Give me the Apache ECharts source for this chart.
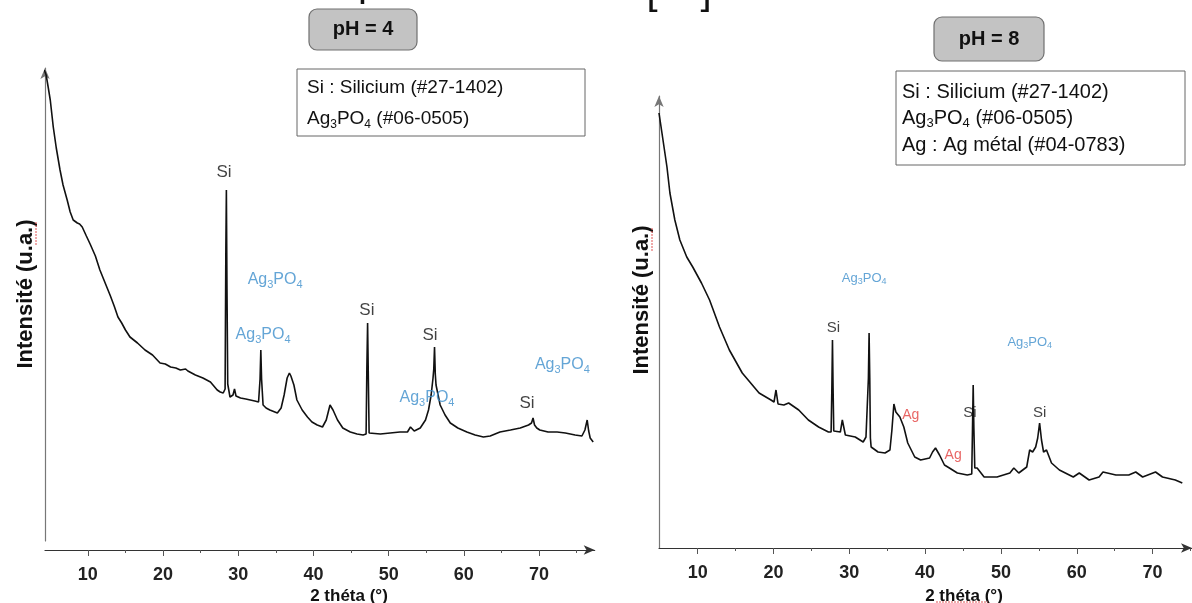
<!DOCTYPE html>
<html>
<head>
<meta charset="utf-8">
<script src="https://cdn.jsdelivr.net/npm/echarts@6/dist/echarts.min.js"></script>
<style>html,body{margin:0;padding:0;background:#fff;}#c{width:1192px;height:603px;}</style>
</head>
<body>
<div id="c"></div>
<script>
// ---- data (2θ in degrees, intensity in arbitrary units) ----
const xTicksMajor = [10, 20, 30, 40, 50, 60, 70];
const xTicksMinor = [15, 25, 35, 45, 55, 65, 75];

// pH = 4 diffractogram
const scanPH4 = [
[4.2,479],[4.45,474],[4.72,462],[5.0,449],[5.4,422],[5.8,401],[6.3,379],[6.7,364],[7.25,349],[7.65,337],
[8.05,329],[8.3,331],[8.6,326],[8.9,325],[9.25,322],[9.8,313],[10.3,305],[11.0,293],[11.6,279],[12.3,266],
[13.0,253],[13.5,243],[14.0,232],[14.5,226],[15.0,219],[15.6,212],[16.6,206],[17.6,199],[18.6,194],[19.6,186],
[20.3,185],[21.0,182],[21.7,181],[22.3,179],[23.0,180],[23.3,178],[24.3,174],[25.3,171],[26.3,167],[27.2,159],
[27.6,157],[28.0,156],[28.25,160],[28.35,300],[28.42,359],[28.5,260],[28.6,165],[28.9,152],[29.3,154],[29.5,160],
[29.7,153],[30.3,151],[31.0,150],[31.6,149],[32.2,148],[32.7,147],[32.9,170],[33.0,199],[33.1,170],[33.3,144],
[33.7,141],[34.2,139],[35.2,136],[35.7,141],[36.1,154],[36.5,171],[36.8,176],[37.0,173],[37.4,164],[37.8,149],
[38.5,139],[39.2,132],[39.8,127],[40.5,124],[41.2,122],[41.7,129],[42.2,144],[42.6,139],[43.2,129],[43.9,121],
[44.9,117],[45.8,115],[46.6,114],[47.0,115],[47.1,180],[47.2,226],[47.3,170],[47.4,116],[47.6,114],[48.9,115],
[50.2,116],[51.5,117],[52.5,117],[52.9,122],[53.4,118],[54.2,121],[54.9,129],[55.3,139],[55.65,154],[55.9,171],
[56.0,180],[56.1,202],[56.2,175],[56.3,164],[56.85,144],[57.5,134],[58.2,126],[59.2,121],[60.4,117],[61.5,114],
[62.6,112],[63.5,113],[64.8,117],[66.2,119],[67.5,121],[68.6,124],[69.0,126],[69.2,131],[69.4,124],[69.7,121],
[70.1,119],[71.2,117],[72.4,117],[73.5,116],[74.8,114],[75.7,113],[76.1,119],[76.4,129],[76.6,118],[76.8,111],
[77.2,107]
];

// pH = 8 diffractogram
const scanPH8 = [
[4.9,435],[5.29,415],[5.95,381],[6.34,355],[6.99,328],[7.65,308],[8.56,291],[9.35,281],[10.5,265],[11.57,248],
[12.88,221],[14.18,198],[15.88,175],[18.1,155],[19.67,148],[20.07,146],[20.33,158],[20.6,144],[21.37,143],[22.0,145],
[23.33,138],[24.6,128],[25.95,121],[27.25,116],[27.6,116],[27.7,160],[27.78,208],[27.86,160],[27.95,117],[28.17,115],
[28.82,116],[29.08,128],[29.48,113],[30.78,111],[31.83,106],[32.2,111],[32.45,112],[32.52,170],[32.61,215],[32.7,170],
[32.78,110],[32.88,101],[33.79,96],[34.71,95],[35.36,98],[35.62,118],[35.88,144],[36.14,136],[36.67,131],[37.19,121],
[37.32,123],[37.71,105],[38.63,91],[39.41,88],[40.59,90],[40.98,96],[41.37,100],[41.9,93],[42.55,83],[43.2,80],
[43.3,82],[44.25,75],[45.56,73],[46.15,74],[46.25,120],[46.34,163],[46.43,120],[46.55,80],[46.86,80],[47.78,71],
[49.48,71],[51.18,75],[51.7,80],[52.35,75],[53.4,81],[53.79,98],[54.18,96],[54.58,101],[54.85,110],[55.1,125],
[55.35,108],[55.62,96],[56.01,98],[56.67,85],[57.71,78],[59.54,71],[60.33,75],[61.63,68],[62.94,71],[63.46,76],
[65.16,73],[66.86,73],[67.78,76],[68.69,71],[70.39,76],[71.31,71],[73.0,68],[73.92,65]
];

// peak annotations: [2θ, intensity, phase]
const labelsPH4 = [
[28.1,377,'Si'],[34.9,269,'Ag3PO4'],[33.3,214,'Ag3PO4'],[47.1,239,'Si'],
[55.5,214,'Si'],[55.1,151,'Ag3PO4'],[68.4,146,'Si'],[73.1,184,'Ag3PO4']
];
const labelsPH8 = [
[31.96,270,'Ag3PO4'],[27.9,220,'Si'],[53.8,206,'Ag3PO4'],[38.1,133,'Ag'],
[45.9,135,'Si'],[55.1,135,'Si'],[43.7,93,'Ag']
];

const xTitle = '2 théta (°)';
const yTitle = 'Intensité (u.a.)';
const legendPH4 = ['Si : Silicium (#27-1402)', 'Ag3PO4 (#06-0505)'];
const legendPH8 = ['Si : Silicium (#27-1402)', 'Ag3PO4 (#06-0505)', 'Ag : Ag métal (#04-0783)'];

// ---- rendering ----
const FONT = 'Liberation Sans, Arial, sans-serif';
const BLUE = '#3d8fcc', RED = '#e2403f', INK = '#111';

function legendText(t) {
  if (t.indexOf('Ag3PO4') === 0) return '{n|Ag}{s|3}{n|PO}{s|4}{n|' + t.slice(6) + '}';
  return '{n|' + t + '}';
}
function annotFormatter(p) {
  const k = p.name;
  if (k === 'Ag3PO4') return '{b|Ag}{bs|3}{b|PO}{bs|4}';
  if (k === 'Ag') return '{r|Ag}';
  return '{k|Si}';
}
function annotRich(big, small, siSize) {
  return {
    k: {color: INK, fontSize: siSize, fontFamily: FONT, lineHeight: big + 4},
    b: {color: BLUE, fontSize: big, fontFamily: FONT, lineHeight: big + 4},
    bs: {color: BLUE, fontSize: small, fontFamily: FONT, lineHeight: small + 1, verticalAlign: 'bottom'},
    r: {color: RED, fontSize: big + 1, fontFamily: FONT, lineHeight: big + 4}
  };
}

const chart = echarts.init(document.getElementById('c'), null, {renderer: 'canvas'});

function mainX(grid, min, max, offset) {
  return {
    gridIndex: grid, type: 'value', position: 'bottom', min: min, max: max, offset: offset,
    axisLine: {show: true, symbol: ['none', 'arrow'], symbolSize: [7, 11], lineStyle: {color: '#333', width: 1.2}},
    axisTick: {show: true, customValues: xTicksMajor, length: 6, lineStyle: {color: '#555'}},
    axisLabel: {show: true, customValues: xTicksMajor, fontSize: 18, fontWeight: 'bold', color: '#222', fontFamily: FONT, margin: 16},
    splitLine: {show: false}
  };
}
function minorX(grid, min, max, offset) {
  return {
    gridIndex: grid, type: 'value', position: 'bottom', min: min, max: max, offset: offset,
    axisLine: {show: false},
    axisTick: {show: true, customValues: xTicksMinor, length: 3, lineStyle: {color: '#555'}},
    axisLabel: {show: false}, splitLine: {show: false}
  };
}
function yAx(grid, min, max) {
  return {
    gridIndex: grid, type: 'value', min: min, max: max,
    axisLine: {show: true, symbol: ['none', 'arrow'], symbolSize: [7, 11], lineStyle: {color: '#777', width: 1.2}},
    axisTick: {show: false}, axisLabel: {show: false}, splitLine: {show: false}
  };
}

const graphics = [];
function addLegend(x, y, w, h, lines, size, x0, ys) {
  graphics.push({type: 'rect', shape: {x: x, y: y, width: w, height: h},
    style: {fill: '#fff', stroke: '#666', lineWidth: 1}, z: 10});
  lines.forEach((t, i) => graphics.push({type: 'text', x: x0, y: ys[i], z: 11,
    style: {text: legendText(t), textVerticalAlign: 'middle', rich: {
      n: {fontSize: size, fontFamily: FONT, fill: '#111', lineHeight: size + 4},
      s: {fontSize: Math.round(size * 0.65), fontFamily: FONT, fill: '#111', lineHeight: Math.round(size * 0.65) + 1, verticalAlign: 'bottom'}
    }}}));
}
function addPH(x, y, w, h, t) {
  graphics.push({type: 'rect', shape: {x: x, y: y, width: w, height: h, r: 8},
    style: {fill: '#c3c3c3', stroke: '#707070', lineWidth: 1.2}, z: 10});
  graphics.push({type: 'text', x: x + w / 2, y: y + h / 2, z: 11,
    style: {text: t, fontSize: 20, fontWeight: 'bold', fontFamily: FONT, fill: '#111', textAlign: 'center', textVerticalAlign: 'middle'}});
}
function addYTitle(x, y) {
  graphics.push({type: 'text', x: x, y: y, rotation: Math.PI / 2, z: 11,
    style: {text: yTitle, fontSize: 22, fontWeight: 'bold', fontFamily: FONT, fill: '#111', textAlign: 'center', textVerticalAlign: 'middle'}});
}
function addXTitle(x, y) {
  graphics.push({type: 'text', x: x, y: y, z: 11,
    style: {text: xTitle, fontSize: 17, fontWeight: 'bold', fontFamily: FONT, fill: '#111', textAlign: 'center', textVerticalAlign: 'middle'}});
}
function squiggle(x1, y1, x2, y2) {
  graphics.push({type: 'line', shape: {x1: x1, y1: y1, x2: x2, y2: y2}, z: 12,
    style: {stroke: '#e05555', lineWidth: 1, lineDash: [2, 1]}});
}
function topFragment(x, y, t) {
  graphics.push({type: 'text', x: x, y: y, z: 11,
    style: {text: t, fontSize: 40, fontFamily: FONT, fill: '#111', textAlign: 'center', textVerticalAlign: 'bottom'}});
}

addPH(309, 9, 108, 41, 'pH = 4');
addPH(934, 17, 110, 44, 'pH = 8');
addLegend(297, 69, 288, 67, legendPH4, 19, 307, [88, 119]);
addLegend(896, 71, 289, 94, legendPH8, 20, 902, [92, 118, 145]);
addYTitle(26, 294);
addYTitle(642, 300);
addXTitle(349, 596);
addXTitle(964, 596);
squiggle(36, 222, 36, 246);
squiggle(652, 228, 652, 252);
squiggle(936, 602, 988, 602);
// cut-off caption fragments at the top edge
topFragment(369, 5, 'p');
topFragment(652, 13, '[');
topFragment(706, 13, ']');

const option = {
  backgroundColor: '#fff',
  animation: false,
  grid: [
    {left: 45, top: 68, width: 549.7, height: 473},
    {left: 659, top: 96, width: 538, height: 452}
  ],
  xAxis: [
    mainX(0, 4.3, 77.4, 9), minorX(0, 4.3, 77.4, 9),
    mainX(1, 4.9, 75.2, 0), minorX(1, 4.9, 75.2, 0)
  ],
  yAxis: [yAx(0, 8, 481), yAx(1, 0, 452)],
  series: [
    {name: 'pH = 4', type: 'line', xAxisIndex: 0, yAxisIndex: 0, data: scanPH4, showSymbol: false,
      lineStyle: {color: '#111', width: 1.6}, z: 5},
    {name: 'pH = 8', type: 'line', xAxisIndex: 2, yAxisIndex: 1, data: scanPH8, showSymbol: false,
      lineStyle: {color: '#111', width: 1.6}, z: 5},
    {name: 'labels pH 4', type: 'scatter', xAxisIndex: 0, yAxisIndex: 0, symbolSize: 1,
      itemStyle: {color: 'rgba(0,0,0,0)'}, silent: true, z: 8,
      data: labelsPH4.map(d => ({name: d[2], value: [d[0], d[1]]})),
      label: {show: true, position: 'inside', formatter: annotFormatter, rich: annotRich(16, 11, 17)}},
    {name: 'labels pH 8', type: 'scatter', xAxisIndex: 2, yAxisIndex: 1, symbolSize: 1,
      itemStyle: {color: 'rgba(0,0,0,0)'}, silent: true, z: 8,
      data: labelsPH8.map(d => ({name: d[2], value: [d[0], d[1]]})),
      label: {show: true, position: 'inside', formatter: annotFormatter, rich: annotRich(13, 9, 15)}}
  ],
  graphic: graphics
};
chart.setOption(option);
</script>
</body>
</html>
